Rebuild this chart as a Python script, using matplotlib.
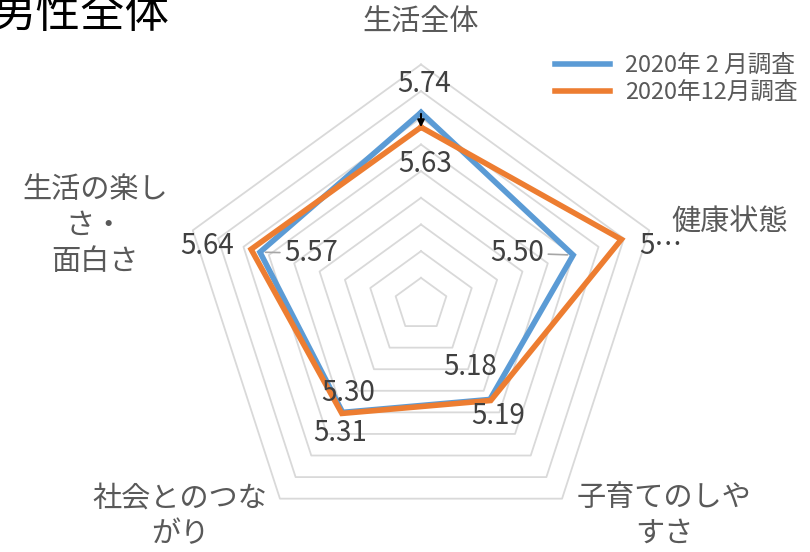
import numpy as np
import matplotlib
matplotlib.use("Agg")
import matplotlib.pyplot as plt

plt.rcParams['font.family'] = ['Noto Sans CJK JP', 'DejaVu Sans']

# survey items, clockwise from the top
categories = ['生活全体', '健康状態', '子育てのしや\nすさ', '社会とのつな\nがり', '生活の楽し\nさ・\n面白さ']
feb_2020 = [5.74, 5.50, 5.18, 5.30, 5.57]
dec_2020 = [5.63, 5.88, 5.19, 5.31, 5.64]
series_names = ['2020年 2 月調査', '2020年12月調査']

r_min, r_max, r_step = 4.3, 6.1, 0.2

blue = '#5B9BD5'
orange = '#ED7D31'
grid_col = '#D9D9D9'
num_col = '#404040'
cat_col = '#595959'

W, H = 810, 552
fig = plt.figure(figsize=(W / 100, H / 100), dpi=100)

cx, cy, R = 421, 304.5, 240
ax = fig.add_axes([(cx - R) / W, (H - cy - R) / H, 2 * R / W, 2 * R / H],
                  projection='polar')
ax.set_theta_zero_location('N')
ax.set_theta_direction(-1)
ax.set_ylim(r_min, r_max)
ax.set_xticks([])
ax.set_yticks([])
ax.grid(False)
ax.spines['polar'].set_visible(False)
ax.patch.set_alpha(0)

n = len(categories)
theta = np.linspace(0, 2 * np.pi, n, endpoint=False)
theta_closed = np.append(theta, theta[0])

# pentagon rings
for r in np.arange(r_min + r_step, r_max + 1e-9, r_step):
    ax.plot(theta_closed, [r] * (n + 1), color=grid_col, lw=1.3, clip_on=False, zorder=1)

for vals, col, name in [(feb_2020, blue, series_names[0]), (dec_2020, orange, series_names[1])]:
    ax.plot(theta_closed, vals + vals[:1], color=col, lw=4, label=name,
            solid_joinstyle='miter', clip_on=False, zorder=3)

# data labels (offsets in pixels from each point)
feb_offsets = [(3, 28), (-56, 2), (-20, 32), (6, 19), (51, -1)]
dec_offsets = [(4, -37), (39, -7), (7, -15), (-2, -20), (-44, 3)]
leader = {1: True, 4: True}
fs_num = 20
for i in range(n):
    arrow = dict(arrowstyle='-', color='#A6A6A6', lw=1.2, shrinkA=1, shrinkB=4) if i in leader else None
    ax.annotate(f'{feb_2020[i]:.2f}', xy=(theta[i], feb_2020[i]), xytext=feb_offsets[i],
                textcoords='offset pixels', ha='center', va='center',
                fontsize=fs_num, color=num_col, arrowprops=arrow, zorder=5)
for i in range(n):
    txt = f'{dec_2020[i]:.2f}'
    if i == 1:
        txt = txt[0] + '…'
    ax.annotate(txt, xy=(theta[i], dec_2020[i]), xytext=dec_offsets[i],
                textcoords='offset pixels', ha='center', va='center',
                fontsize=fs_num, color=num_col, zorder=5)

# change arrow on the top item
ax.annotate('', xy=(theta[0], dec_2020[0]), xytext=(theta[0], feb_2020[0]),
            arrowprops=dict(arrowstyle='-|>', color='black', lw=1.5,
                            mutation_scale=10, shrinkA=1, shrinkB=0), zorder=6)

# category labels
cat_pos = [(421, 22), (730, 222), (664, 516), (180, 516), (95, 226)]
for lab, (px, py) in zip(categories, cat_pos):
    fig.text(px / W, 1 - py / H, lab, ha='center', va='center', fontsize=21,
             color=cat_col, linespacing=1.25)

fig.text(-9 / W, 1 - 27 / H, '男性全体', ha='left', va='baseline', fontsize=32, color='black')

fig.legend(loc='upper left', bbox_to_anchor=(534 / W, 1 - 33 / H), frameon=False,
           fontsize=17, handlelength=2.3, handletextpad=0.65, labelspacing=0.17,
           labelcolor=cat_col)

fig.savefig('out.png', dpi=100)
